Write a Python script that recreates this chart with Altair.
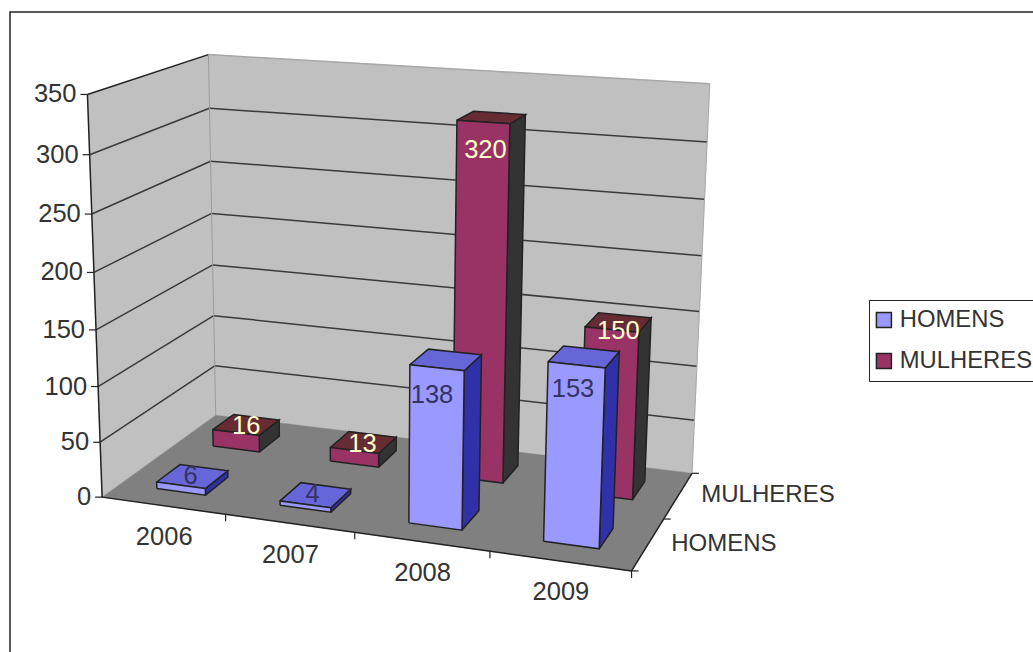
import altair as alt
import numpy as np
import pandas as pd

# --- values -----------------------------------------------------------------
YEARS = ["2006", "2007", "2008", "2009"]
SERIES = ["HOMENS", "MULHERES"]
HOMENS = [6, 4, 138, 153]
MULHERES = [16, 13, 320, 150]
VALUE_TICKS = [0, 50, 100, 150, 200, 250, 300, 350]
VALUE_MAX = 350

# --- colours ----------------------------------------------------------------
FRONT = {"HOMENS": "#9999ff", "MULHERES": "#993366"}
TOP = {"HOMENS": "#6666d8", "MULHERES": "#662b33"}
SIDE = {"HOMENS": "#3030a8", "MULHERES": "#333333"}
LABEL = {"HOMENS": "#333366", "MULHERES": "#ffffcc"}
WALL = "#c0c0c0"
FLOOR = "#808080"
INK = "#222222"
TEXT = "#333333"
FONT = "Liberation Sans"
FONT_SIZE = 24
LEGEND_SIZE = 23.8
DIGIT_SIZE = 25.5

# --- camera: cube points (year, depth, value) and where they land on the page
CUBE = [
    (0, 0, 0), (1, 0, 0), (1, 1, 0), (0, 1, 0), (0, 0, 1), (0, 1, 1), (1, 1, 1),
    (0.25, 0, 0), (0.5, 0, 0), (0.75, 0, 0),
    (0, 0, 2 / 7), (0, 0, 4 / 7), (0, 0, 6 / 7),
]
PAGE = [
    (103, 496), (632, 570), (693, 472), (215, 415), (87, 93), (208, 55), (710, 85),
    (225, 517), (353, 535), (489, 550),
    (100, 386), (95, 272), (89, 155),
]


def fit_camera(cube, page):
    rows, rhs = [], []
    for (a, b, c), (x, y) in zip(cube, page):
        rows.append([a, b, c, 1, 0, 0, 0, 0, -x * a, -x * b, -x * c])
        rows.append([0, 0, 0, 0, a, b, c, 1, -y * a, -y * b, -y * c])
        rhs += [x, y]
    p = np.linalg.lstsq(np.array(rows, float), np.array(rhs, float), rcond=None)[0]
    return np.append(p, 1).reshape(3, 4)


CAMERA = fit_camera(CUBE, PAGE)


def corner(u, v, w):
    h = CAMERA @ np.array([u, v, w, 1.0])
    return float(h[0] / h[2]), float(h[1] / h[2])


# --- geometry tables --------------------------------------------------------
lines = []  # open strokes


def add_poly(rows, pid, pts, fill, stroke, width=1.5):
    for i, (x, y) in enumerate(pts + pts[:1]):
        rows.append(dict(pid=pid, i=i, x=x, y=y, fill=fill, stroke=stroke, sw=width))


def add_line(pid, pts, stroke, width=1.2):
    for i, (x, y) in enumerate(pts):
        lines.append(dict(pid=pid, i=i, x=x, y=y, stroke=stroke, sw=width))


backdrop = []
add_poly(backdrop, "a-left", [corner(0, 0, 0), corner(0, 1, 0), corner(0, 1, 1), corner(0, 0, 1)], WALL, WALL, 0.5)
add_poly(backdrop, "b-back", [corner(0, 1, 0), corner(1, 1, 0), corner(1, 1, 1), corner(0, 1, 1)], WALL, WALL, 0.5)
add_poly(backdrop, "c-floor", [corner(0, 0, 0), corner(1, 0, 0), corner(1, 1, 0), corner(0, 1, 0)], FLOOR, FLOOR, 0.5)

# outer chart frame (its right and bottom sides fall off the page)
add_line("frame", [(10, 652), (10, 12), (1033, 12)], INK, 1.5)

# gridlines run over the left wall and on across the back wall
for t in VALUE_TICKS[1:]:
    w = t / VALUE_MAX
    add_line(f"grid{t}a", [corner(0, 0, w), corner(0, 1, w)], INK if t == VALUE_MAX else "#3a3a3a", 1.5)
    add_line(f"grid{t}b", [corner(0, 1, w), corner(1, 1, w)], "#a8a8a8" if t == VALUE_MAX else "#3a3a3a", 1.5)

add_line("edge-back-left", [corner(0, 1, 0), corner(0, 1, 1)], "#9a9a9a", 1)
add_line("edge-back-right", [corner(1, 1, 0), corner(1, 1, 1)], "#a8a8a8", 1)
add_line("axis-value", [corner(0, 0, 0), corner(0, 0, 1)], INK, 1.5)
add_line("axis-year", [corner(0, 0, 0), corner(1, 0, 0)], INK, 1.5)
add_line("axis-depth", [corner(1, 0, 0), corner(1, 1, 0)], INK, 1.5)

TICK_LEN = 7
for t in VALUE_TICKS:
    x, y = corner(0, 0, t / VALUE_MAX)
    add_line(f"tick-v{t}", [(x - TICK_LEN, y), (x, y)], INK)
for k in range(1, len(YEARS) + 1):
    x, y = corner(k / len(YEARS), 0, 0)
    add_line(f"tick-y{k}", [(x, y), (x, y + TICK_LEN)], INK)
for k in range(len(SERIES) + 1):
    x, y = corner(1, k / len(SERIES), 0)
    add_line(f"tick-s{k}", [(x, y), (x + TICK_LEN, y)], INK)

# --- bars -------------------------------------------------------------------
BAR_SHARE = 0.40  # column width inside its year slot
DEPTH_SHARE = 0.40  # column depth inside its series slot
VALUES = {"HOMENS": HOMENS, "MULHERES": MULHERES}


def bar_box(s_idx, y_idx, value):
    u0 = (y_idx + 0.5 - BAR_SHARE / 2) / len(YEARS)
    u1 = (y_idx + 0.5 + BAR_SHARE / 2) / len(YEARS)
    v0 = (s_idx + 0.5 - DEPTH_SHARE / 2) / len(SERIES)
    v1 = (s_idx + 0.5 + DEPTH_SHARE / 2) / len(SERIES)
    return u0, u1, v0, v1, value / VALUE_MAX


shades = {s: [] for s in SERIES}
fronts = {s: [] for s in SERIES}
for s_idx, s in enumerate(SERIES):
    for y_idx, year in enumerate(YEARS):
        u0, u1, v0, v1, w = bar_box(s_idx, y_idx, VALUES[s][y_idx])
        add_poly(shades[s], f"{year}-side",
                 [corner(u1, v0, 0), corner(u1, v1, 0), corner(u1, v1, w), corner(u1, v0, w)], SIDE[s], INK)
        add_poly(shades[s], f"{year}-top",
                 [corner(u0, v0, w), corner(u1, v0, w), corner(u1, v1, w), corner(u0, v1, w)], TOP[s], INK)
        rows = []
        add_poly(rows, f"{year}-front",
                 [corner(u0, v0, 0), corner(u1, v0, 0), corner(u1, v0, w), corner(u0, v0, w)], FRONT[s], INK)
        for r in rows:
            r["series"] = s
        fronts[s] += rows

# --- text -------------------------------------------------------------------
# Nudges of each value label from the middle of its column's top
LABEL_NUDGE = {
    ("HOMENS", "2006"): (-2, 0), ("HOMENS", "2007"): (-3, -1),
    ("HOMENS", "2008"): (-14, 35), ("HOMENS", "2009"): (-11, 32),
    ("MULHERES", "2006"): (0, 1), ("MULHERES", "2007"): (-1, 2),
    ("MULHERES", "2008"): (-6, 33), ("MULHERES", "2009"): (0, 9),
}
value_labels = []
for s_idx, s in enumerate(SERIES):
    for y_idx, year in enumerate(YEARS):
        u0, u1, v0, v1, w = bar_box(s_idx, y_idx, VALUES[s][y_idx])
        x, y = corner((u0 + u1) / 2, (v0 + v1) / 2, w)
        dx, dy = LABEL_NUDGE[(s, year)]
        value_labels.append(dict(x=x + dx, y=y + dy, text=str(VALUES[s][y_idx]), color=LABEL[s]))

value_axis_labels = []
for t in VALUE_TICKS:
    x, y = corner(0, 0, t / VALUE_MAX)
    value_axis_labels.append(dict(x=x - 11, y=y, text=str(t)))

year_labels = []
for k, year in enumerate(YEARS):
    x, y = corner((k + 0.5) / len(YEARS), 0, 0)
    year_labels.append(dict(x=x + 1, y=y + 31.5, text=year))

series_labels = []
for k, s in enumerate(SERIES):
    x, y = corner(1, (k + 0.5) / len(SERIES), 0)
    series_labels.append(dict(x=x + 23, y=y, text=s))

# --- chart ------------------------------------------------------------------
X = alt.X("x:Q", scale=alt.Scale(domain=[0, 1033], nice=False, zero=False), axis=None)
Y = alt.Y("y:Q", scale=alt.Scale(domain=[652, 0], nice=False, zero=False), axis=None)


def faces(rows):
    return alt.Chart(pd.DataFrame(rows)).mark_line(strokeJoin="miter", interpolate="linear").encode(
        x=X, y=Y, order="i:Q", detail="pid:N",
        fill=alt.Fill("fill:N", scale=None),
        stroke=alt.Stroke("stroke:N", scale=None),
        strokeWidth=alt.StrokeWidth("sw:Q", scale=None),
    )


def front_faces(rows):
    legend = alt.Legend(
        title=None, orient="none", legendX=869, legendY=300, symbolType="square", symbolSize=225,
        symbolStrokeColor=INK, symbolStrokeWidth=1.5, symbolOffset=-5, labelFont=FONT,
        labelFontSize=LEGEND_SIZE, labelColor=TEXT, strokeColor=INK, padding=8, rowPadding=16,
        labelOffset=4, fillColor="white",
    )
    return alt.Chart(pd.DataFrame(rows)).mark_line(strokeJoin="miter").encode(
        x=X, y=Y, order="i:Q", detail="pid:N",
        fill=alt.Fill("series:N", scale=alt.Scale(domain=SERIES, range=[FRONT[s] for s in SERIES]), legend=legend),
        stroke=alt.value(INK),
        strokeWidth=alt.value(1.5),
    )


def strokes(rows):
    return alt.Chart(pd.DataFrame(rows)).mark_line().encode(
        x=X, y=Y, order="i:Q", detail="pid:N",
        stroke=alt.Stroke("stroke:N", scale=None),
        strokeWidth=alt.StrokeWidth("sw:Q", scale=None),
    )


def text_layer(rows, align, size, color=None):
    enc = dict(x=X, y=Y, text="text:N")
    enc["color"] = alt.Color("color:N", scale=None) if color is None else alt.value(color)
    return alt.Chart(pd.DataFrame(rows)).mark_text(
        font=FONT, fontSize=size, align=align, baseline="middle"
    ).encode(**enc)


chart = alt.layer(
    faces(backdrop),
    strokes(lines),
    faces(shades["MULHERES"]),
    front_faces(fronts["MULHERES"]),
    faces(shades["HOMENS"]),
    front_faces(fronts["HOMENS"]),
    text_layer(value_labels, "center", DIGIT_SIZE),
    text_layer(value_axis_labels, "right", DIGIT_SIZE, TEXT),
    text_layer(year_labels, "center", DIGIT_SIZE, TEXT),
    text_layer(series_labels, "left", FONT_SIZE, TEXT),
).properties(
    width=1033, height=652, padding=0, autosize=alt.AutoSizeParams(type="none"), background="white",
).configure_view(stroke=None)

chart.save("out.html", embed_options={"renderer": "svg", "actions": False})
